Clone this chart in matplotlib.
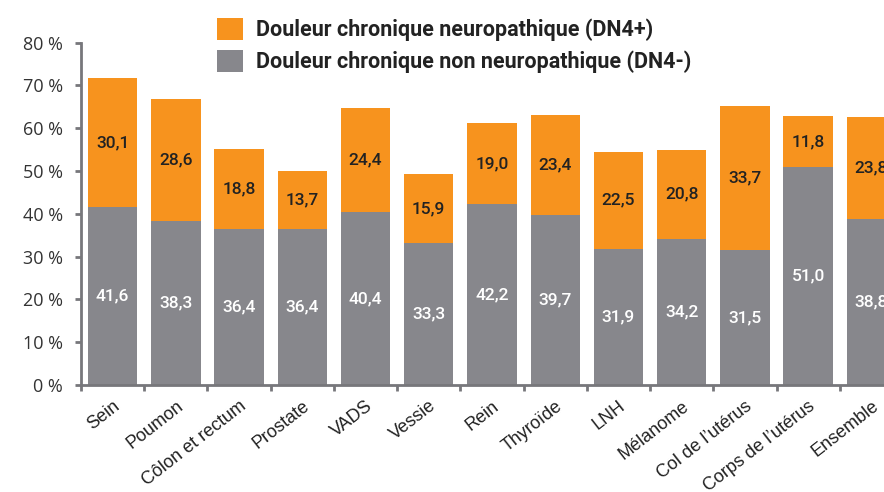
import numpy as np
import matplotlib.pyplot as plt
import matplotlib.transforms as mtransforms

categories = ["Sein", "Poumon", "Côlon et rectum", "Prostate", "VADS", "Vessie",
              "Rein", "Thyroïde", "LNH", "Mélanome", "Col de l\u2019utérus",
              "Corps de l\u2019utérus", "Ensemble"]
dn4_moins = [41.6, 38.3, 36.4, 36.4, 40.4, 33.3, 42.2, 39.7, 31.9, 34.2, 31.5, 51.0, 38.8]
dn4_plus = [30.1, 28.6, 18.8, 13.7, 24.4, 15.9, 19.0, 23.4, 22.5, 20.8, 33.7, 11.8, 23.8]
yticks = [0, 10, 20, 30, 40, 50, 60, 70, 80]

orange = "#F7931E"
gris = "#87878C"
axe = "#77777B"

fig = plt.figure(figsize=(8.84, 4.92), dpi=100)
fig.patch.set_facecolor("white")
# axes deliberately run past the right edge (last bar is cut in the original)
ax = fig.add_axes([81 / 884, 107 / 492, 822 / 884, 342.3 / 492])

x = np.arange(len(categories))
b1 = ax.bar(x, dn4_moins, width=0.78, color=gris, edgecolor="none")
b2 = ax.bar(x, dn4_plus, width=0.78, bottom=dn4_moins, color=orange, edgecolor="none")

for i in range(len(categories)):
    ax.text(x[i], dn4_moins[i] / 2, f"{dn4_moins[i]:.1f}".replace(".", ","),
            ha="center", va="center", color="white", fontsize=12.5,
            family="Roboto", weight="medium")
    ax.text(x[i], dn4_moins[i] + dn4_plus[i] / 2, f"{dn4_plus[i]:.1f}".replace(".", ","),
            ha="center", va="center", color="#222222", fontsize=12.5,
            family="Roboto", weight="medium")

ax.set_xlim(-0.5, len(categories) - 0.5)
ax.set_ylim(0, 80)
ax.set_yticks(yticks)
ax.set_yticklabels([f"{v} %" for v in yticks], fontsize=13, color="#333333",
                   family="Open Sans")
off = mtransforms.ScaledTranslation(0, -6 / 100, fig.dpi_scale_trans)
for lab in ax.get_yticklabels():
    lab.set_transform(lab.get_transform() + off)

ax.set_xticks(x - 0.5, minor=False)
ax.set_xticklabels([])
ax.set_xticks(x, minor=True)
ax.set_xticklabels(categories, minor=True, rotation=38, ha="right",
                   rotation_mode="anchor", fontsize=13, color="#222222",
                   family="Liberation Sans")
ax.tick_params(axis="x", which="minor", length=0, pad=9)
ax.tick_params(axis="x", which="major", length=4, width=2, color=axe)
ax.tick_params(axis="y", length=4, width=2, color=axe, pad=9)

for s in ["top", "right"]:
    ax.spines[s].set_visible(False)
for s in ["left", "bottom"]:
    ax.spines[s].set_color(axe)
    ax.spines[s].set_linewidth(2)

leg = fig.legend([b2, b1], ["Douleur chronique neuropathique (DN4+)",
                            "Douleur chronique non neuropathique (DN4-)"],
                 loc="upper left", bbox_to_anchor=(202 / 884, 1 - 3 / 492),
                 frameon=False, handlelength=1.2, handleheight=1.2,
                 handletextpad=0.6, labelspacing=0.4, borderaxespad=0.3,
                 prop={"family": "Roboto", "weight": "bold", "size": 15.5})
for t in leg.get_texts():
    t.set_color("#222222")

fig.savefig("out.png", dpi=100)
